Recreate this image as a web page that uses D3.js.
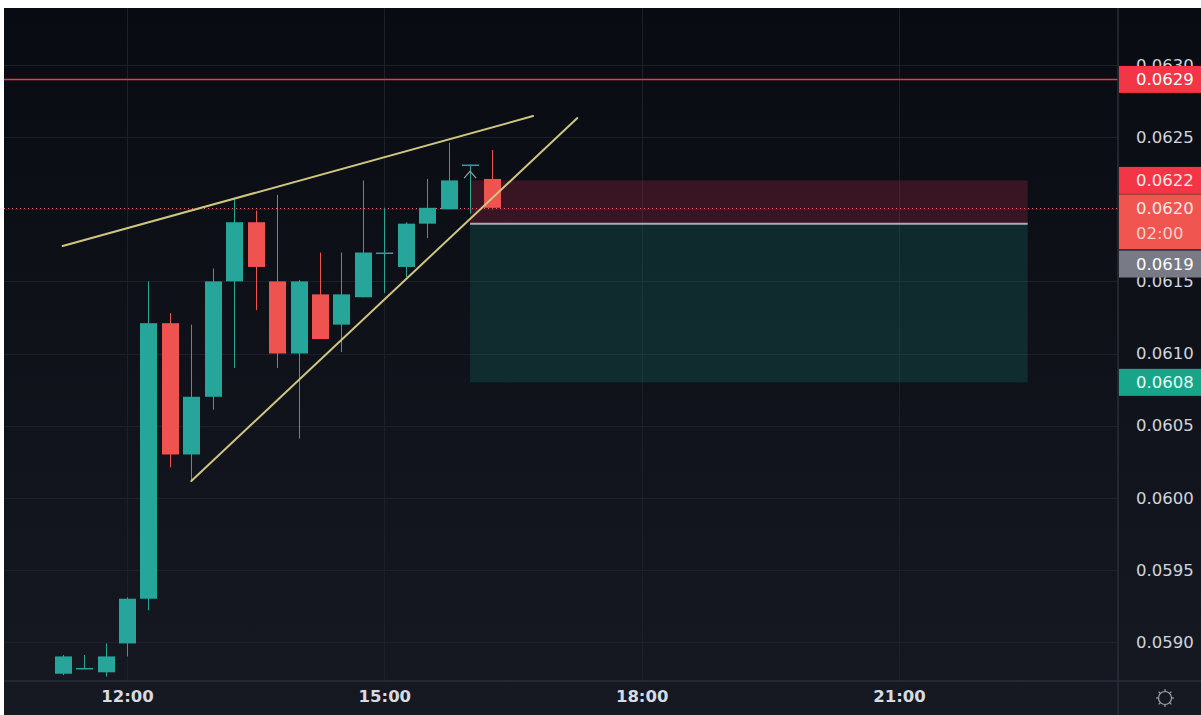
<!DOCTYPE html>
<html><head><meta charset="utf-8">
<script src="https://cdn.jsdelivr.net/npm/d3@7"></script>
<style>
html,body{margin:0;padding:0;background:#fff;}
svg{display:block;}
</style></head>
<body>
<script>
// ---- data ----
const times = ["11:15","11:30","11:45","12:00","12:15","12:30","12:45","13:00","13:15","13:30","13:45","14:00","14:15","14:30","14:45","15:00","15:15","15:30","15:45","16:00","16:15"];
const opens  = [0.05878,0.05882,0.05879,0.05899,0.05930,0.06121,0.06030,0.06070,0.06150,0.06191,0.06150,0.06100,0.06141,0.06120,0.06139,0.06170,0.06160,0.06190,0.06200,0.06231,0.06221];
const highs  = [0.05891,0.05891,0.05899,0.05931,0.06150,0.06128,0.06120,0.06159,0.06208,0.06199,0.06210,0.06151,0.06170,0.06170,0.06220,0.06201,0.06191,0.06221,0.06246,0.06231,0.06241];
const lows   = [0.05877,0.05882,0.05876,0.05890,0.05922,0.06021,0.06012,0.06061,0.06090,0.06130,0.06090,0.06041,0.06110,0.06101,0.06139,0.06142,0.06153,0.06180,0.06200,0.06197,0.06200];
const closes = [0.05890,0.05882,0.05890,0.05930,0.06121,0.06030,0.06070,0.06150,0.06191,0.06160,0.06100,0.06150,0.06110,0.06141,0.06170,0.06170,0.06190,0.06201,0.06220,0.06231,0.06201];

const priceTicks = [0.0590,0.0595,0.0600,0.0605,0.0610,0.0615,0.0620,0.0625,0.0630];
const timeTicks = ["12:00","15:00","18:00","21:00"];

const resistanceLevel = 0.0629;
// short position tool
const posStart = "16:00", posEnd = "22:30";
const stopLevel = 0.0622, entryLevel = 0.0619, targetLevel = 0.0608;
// trend lines: [time, price] pairs
const upperLine = [["11:15",0.061745],["16:44",0.062646]];
const lowerLine = [["12:45",0.060116],["17:15",0.062632]];
const countdown = "02:00";

// ---- layout ----
const W = 1201, H = 715;
const L = 4, T = 8, R = 1118, B = 681;
const toH = s => { const [h,m] = s.split(":").map(Number); return h + m/60; };
const crisp = v => Math.round(v) + 0.5;

const x = d3.scaleLinear().domain([12,21]).range([127,899]);
const y = d3.scaleLinear().domain([0.0590,0.0630]).range([642,65]);

const svg = d3.select("body").append("svg").attr("width",W).attr("height",H);
const defs = svg.append("defs");
const grad = defs.append("linearGradient").attr("id","bg").attr("x1",0).attr("y1",0).attr("x2",0).attr("y2",1);
grad.append("stop").attr("offset","0%").attr("stop-color","#090b12");
grad.append("stop").attr("offset","100%").attr("stop-color","#161922");
defs.append("clipPath").attr("id","plot").append("rect").attr("x",L).attr("y",T).attr("width",R-L).attr("height",B-T);

svg.append("rect").attr("x",L).attr("y",T).attr("width",W-L).attr("height",H-T).attr("fill","url(#bg)");

const plot = svg.append("g").attr("clip-path","url(#plot)");

// grid
plot.selectAll("line.hg").data(priceTicks).join("line")
  .attr("x1",L).attr("x2",R).attr("y1",d=>crisp(y(d))).attr("y2",d=>crisp(y(d)))
  .attr("stroke","#1c2029").attr("stroke-width",1);
plot.selectAll("line.vg").data(timeTicks).join("line")
  .attr("x1",d=>crisp(x(toH(d)))).attr("x2",d=>crisp(x(toH(d)))).attr("y1",T).attr("y2",B)
  .attr("stroke","#1c2029").attr("stroke-width",1);

// position zones
const px0 = x(toH(posStart)), px1 = x(toH(posEnd));
plot.append("rect").attr("x",px0).attr("y",y(stopLevel)).attr("width",px1-px0).attr("height",y(entryLevel)-y(stopLevel))
  .attr("fill","rgba(200,40,80,0.24)");
plot.append("rect").attr("x",px0).attr("y",y(entryLevel)).attr("width",px1-px0).attr("height",y(targetLevel)-y(entryLevel))
  .attr("fill","rgba(20,150,130,0.2)");

// current price line (dotted)
const last = closes[closes.length-1];
plot.append("line").attr("x1",L).attr("x2",R).attr("y1",crisp(y(last))).attr("y2",crisp(y(last)))
  .attr("stroke","#f06a70").attr("stroke-width",1).attr("stroke-dasharray","1,3");

// candles
const candles = times.map((t,i)=>({t:toH(t),o:opens[i],h:highs[i],l:lows[i],c:closes[i]}));
const up = "#26a69a", dn = "#ef5350";
const bw = 16;
const cg = plot.append("g");
cg.selectAll("line.wick").data(candles).join("line")
  .attr("x1",d=>crisp(x(d.t))).attr("x2",d=>crisp(x(d.t))).attr("y1",d=>y(d.h)).attr("y2",d=>y(d.l))
  .attr("stroke",d=>d.c>=d.o?up:dn).attr("stroke-width",1);
cg.selectAll("rect.body").data(candles).join("rect")
  .attr("x",d=>Math.round(x(d.t))-bw/2).attr("width",bw+1)
  .attr("y",d=>y(Math.max(d.o,d.c)))
  .attr("height",d=>Math.max(1.5,Math.abs(y(d.o)-y(d.c))))
  .attr("fill",d=>d.c>=d.o?up:dn);

// entry line
plot.append("line").attr("x1",px0).attr("x2",px1).attr("y1",y(entryLevel)).attr("y2",y(entryLevel))
  .attr("stroke","#a9acb5").attr("stroke-width",2);

// small chevron marker near position start
const cx0 = px0, cy0 = y(0.06225);
plot.append("path").attr("d",`M${cx0-6},${cy0+5} L${cx0},${cy0-2} L${cx0+6},${cy0+5}`)
  .attr("fill","none").attr("stroke","#9aa0a8").attr("stroke-width",1.2);

// trend lines
[upperLine, lowerLine].forEach(ln=>{
  plot.append("line")
    .attr("x1",x(toH(ln[0][0]))).attr("y1",y(ln[0][1]))
    .attr("x2",x(toH(ln[1][0]))).attr("y2",y(ln[1][1]))
    .attr("stroke","#cfc67e").attr("stroke-width",2).attr("stroke-linecap","round");
});

// resistance line
plot.append("line").attr("x1",L).attr("x2",R).attr("y1",crisp(y(resistanceLevel))).attr("y2",crisp(y(resistanceLevel)))
  .attr("stroke","#f23645").attr("stroke-width",1.3);

// axes separators
svg.append("line").attr("x1",R).attr("x2",R).attr("y1",T).attr("y2",H).attr("stroke","#2a2e39").attr("stroke-width",1.5);
svg.append("line").attr("x1",L).attr("x2",W).attr("y1",B).attr("y2",B).attr("stroke","#2a2e39").attr("stroke-width",1.5);

// price axis
const fmt = d3.format(".4f");
const yAxis = svg.append("g").attr("transform",`translate(${R},0)`)
  .call(d3.axisRight(y).tickValues(priceTicks).tickFormat(fmt).tickSize(0).tickPadding(18));
yAxis.select(".domain").remove();
yAxis.selectAll("text").attr("fill","#d1d4dc").attr("font-family","DejaVu Sans, sans-serif").attr("font-size",16.5);

// time axis
const xAxis = svg.append("g").attr("transform",`translate(0,${B})`)
  .call(d3.axisBottom(x).tickValues(timeTicks.map(toH)).tickFormat((d,i)=>timeTicks[i]).tickSize(0).tickPadding(9));
xAxis.select(".domain").remove();
xAxis.selectAll("text").attr("fill","#d8dbe2").attr("font-family","DejaVu Sans, sans-serif").attr("font-size",16.5).attr("font-weight","bold");

// price labels
function tag(yc, h, color, lines, textColors){
  const g = svg.append("g");
  g.append("rect").attr("x",R+1).attr("y",yc-13.5).attr("width",W-R-1).attr("height",h).attr("fill",color);
  lines.forEach((s,i)=>{
    g.append("text").attr("x",R+18).attr("y",yc+i*25).attr("dy","0.35em")
      .attr("fill",textColors[i]||"#fff").attr("font-family","DejaVu Sans, sans-serif").attr("font-size",16.5).text(s);
  });
}
tag(y(resistanceLevel), 27, "#f23645", [fmt(resistanceLevel)], ["#fff"]);
tag(y(stopLevel), 27, "#f23645", [fmt(stopLevel)], ["#fde8e8"]);
tag(y(last), 55, "#f0554f", [fmt(last), countdown], ["#fde8e8","#fbd0cc"]);
tag(264, 27, "#787b86", [fmt(entryLevel)], ["#fff"]);
tag(y(targetLevel), 27, "#17a58a", [fmt(targetLevel)], ["#e8fff8"]);

// settings icon
const ic = svg.append("g").attr("transform","translate(1165,698)").attr("fill","none").attr("stroke","#9ea2ab").attr("stroke-width",1.2);
ic.append("circle").attr("r",6.5);
[0,45,90,135,180,225,270,315].forEach(a=>{
  const r = a*Math.PI/180;
  ic.append("line").attr("x1",Math.cos(r)*6.5).attr("y1",Math.sin(r)*6.5).attr("x2",Math.cos(r)*9).attr("y2",Math.sin(r)*9);
});
</script>
</body></html>
